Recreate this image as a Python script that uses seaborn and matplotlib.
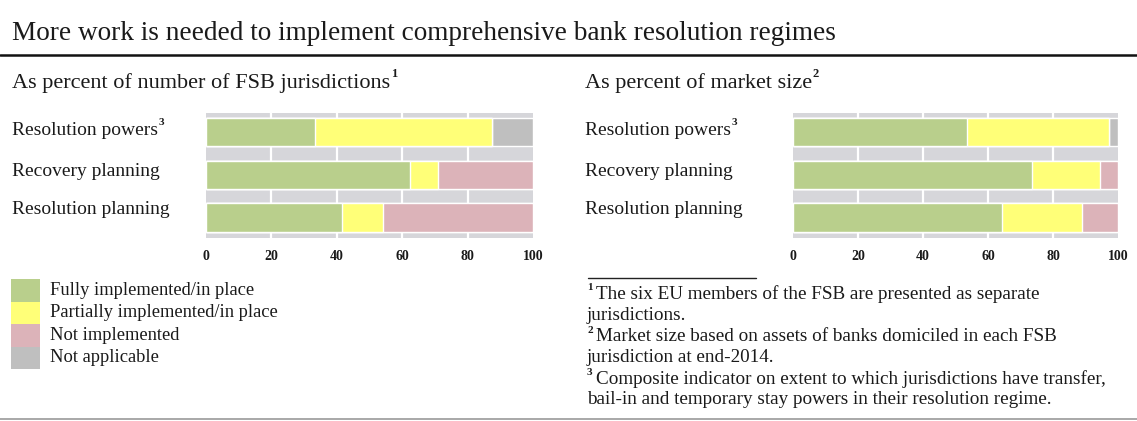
import numpy as np
import pandas as pd
import matplotlib
matplotlib.use("Agg")
import matplotlib.pyplot as plt
from matplotlib.lines import Line2D
from matplotlib.patches import Rectangle
import seaborn as sns

# ---- data -------------------------------------------------------------
categories = ["Resolution powers", "Recovery planning", "Resolution planning"]
label_notes = ["3", "", ""]

status_names = ["Fully implemented/in place", "Partially implemented/in place",
                "Not implemented", "Not applicable"]
status_colors = ["#b9cf8c", "#ffff78", "#dcb3b9", "#bfbfbf"]

# share of FSB jurisdictions (24 jurisdictions, EU members counted separately)
jur_full = [33.3, 62.5, 41.7]
jur_partial = [54.2, 8.3, 12.5]
jur_not = [0.0, 29.2, 45.8]
jur_na = [12.5, 0.0, 0.0]

# share of market size (bank assets, end-2014)
mkt_full = [53.4, 73.6, 64.4]
mkt_partial = [43.8, 20.9, 24.6]
mkt_not = [0.0, 5.5, 11.0]
mkt_na = [2.8, 0.0, 0.0]

x_ticks = [0, 20, 40, 60, 80, 100]

footnotes = [
    ("1", ["The six EU members of the FSB are presented as separate",
           "jurisdictions."]),
    ("2", ["Market size based on assets of banks domiciled in each FSB",
           "jurisdiction at end-2014."]),
    ("3", ["Composite indicator on extent to which jurisdictions have transfer,",
           "bail-in and temporary stay powers in their resolution regime."]),
]

# ---- figure -----------------------------------------------------------
W, H = 1137, 421
sns.set_style("white")
plt.rcParams["font.family"] = ["Liberation Serif", "DejaVu Serif"]
fig = plt.figure(figsize=(W / 100, H / 100), dpi=100)
fig.patch.set_facecolor("white")

SERIF = ["Liberation Serif", "DejaVu Serif"]
TXT = "#1a1a1a"


def fx(px):
    return px / W


def fy(py):
    return 1 - py / H


renderer = fig.canvas.get_renderer()


def text_sup(x, y, s, sup, size, sup_size=None, **kw):
    """Draw text at pixel position with an optional superscript after it."""
    t = fig.text(fx(x), fy(y), s, fontsize=size, family=SERIF, color=TXT,
                 va="center", ha="left", **kw)
    if sup:
        bb = t.get_window_extent(renderer=renderer)
        fig.text(bb.x1 / W + 0.5 / W, fy(y) + size * 0.42 / 72 * 100 / H, sup,
                 fontsize=sup_size or size * 0.6, family=SERIF, color=TXT,
                 va="center", ha="left", fontweight="bold")
    return t


# title and rules
text_sup(12, 33, "More work is needed to implement comprehensive bank resolution regimes",
         "", 19.6)
fig.add_artist(Line2D([0, 1], [fy(55), fy(55)], color="#111111", lw=1.8,
                      transform=fig.transFigure))
fig.add_artist(Line2D([0, 1], [fy(419), fy(419)], color="#999999", lw=1.2,
                      transform=fig.transFigure))

# panel subtitles
text_sup(12, 83, "As percent of number of FSB jurisdictions", "1", 16, 9)
text_sup(585, 83, "As percent of market size", "2", 16, 9)


def stacked_panel(rect, full, partial, notimp, na):
    ax = fig.add_axes(rect)
    ax.set_facecolor("#d6d6da")
    segments = [full, partial, notimp, na]
    cum = np.cumsum(np.array(segments, dtype=float), axis=0)
    # draw the widest cumulative bar first so each later one sits on top
    for k in range(len(segments) - 1, -1, -1):
        df = pd.DataFrame({"category": categories, "value": cum[k]})
        sns.barplot(data=df, x="value", y="category", orient="h",
                    color=status_colors[k], saturation=1, width=0.66,
                    ax=ax, zorder=3)
    ax.set_xlim(0, 100)
    ax.set_ylim(2.48, -0.45)
    ax.set_xticks(x_ticks)
    ax.set_xticklabels([str(v) for v in x_ticks], fontsize=10, fontweight="bold",
                       family=SERIF, color=TXT)
    ax.set_yticks([])
    ax.set_xlabel("")
    ax.set_ylabel("")
    ax.tick_params(axis="x", length=0, pad=9)
    for v in x_ticks[1:-1]:
        ax.axvline(v, color="white", lw=1.6, zorder=1)
    for sp in ax.spines.values():
        sp.set_visible(False)
    return ax


top, bottom = 113, 238
ax1 = stacked_panel([fx(206), fy(bottom), fx(533) - fx(206), fy(top) - fy(bottom)],
                    jur_full, jur_partial, jur_not, jur_na)
ax2 = stacked_panel([fx(793), fy(bottom), fx(1118) - fx(793), fy(top) - fy(bottom)],
                    mkt_full, mkt_partial, mkt_not, mkt_na)

# category labels
row_y = [131, 171, 210]
for x0 in (12, 585):
    for name, note, yy in zip(categories, label_notes, row_y):
        text_sup(x0, yy, name, note, 14, 8)

# legend: stacked colour swatches with labels
leg_top, leg_step = 279, 22.5
for i, (name, col) in enumerate(zip(status_names, status_colors)):
    y0 = leg_top + i * leg_step
    fig.add_artist(Rectangle((fx(11), fy(y0 + leg_step)), fx(40) - fx(11),
                             leg_step / H, facecolor=col, edgecolor="none",
                             transform=fig.transFigure))
    text_sup(50, y0 + leg_step / 2, name, "", 13.3)

# footnotes
fig.add_artist(Line2D([fx(588), fx(756)], [fy(278), fy(278)], color="#222222",
                      lw=1.0, transform=fig.transFigure))
line_y = 294
for mark, lines in footnotes:
    for j, line in enumerate(lines):
        if j == 0:
            fig.text(fx(587), fy(line_y - 6), mark, fontsize=8, family=SERIF,
                     color=TXT, va="center", ha="left", fontweight="bold")
            text_sup(596, line_y, line, "", 13.8)
        else:
            text_sup(587, line_y, line, "", 13.8)
        line_y += 21.2

fig.savefig("out.png", dpi=100, facecolor="white")
